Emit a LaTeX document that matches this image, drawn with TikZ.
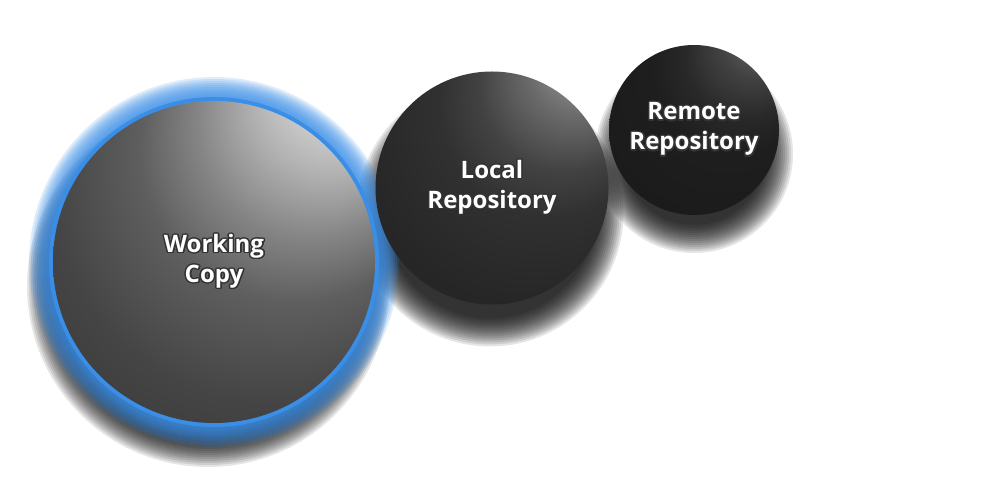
\documentclass[tikz,border=0pt]{standalone}
\usepackage{fontspec}
\usepackage[copies]{contour}
\newfontfamily\labelfont{Open Sans}
\contourlength{0.7pt}
\contournumber{20}

\definecolor{glowblue}{HTML}{3A8EE6}

% Sphere shadings, highlight up and to the right
\pgfdeclareradialshading{wcball}{\pgfpoint{24bp}{34bp}}{%
  color(0bp)=(black!4); color(5bp)=(black!11); color(12bp)=(black!30);
  color(18bp)=(black!48); color(24bp)=(black!63); color(33bp)=(black!73);
  color(42bp)=(black!78); color(50bp)=(black!80)}
\pgfdeclareradialshading{localball}{\pgfpoint{24bp}{34bp}}{%
  color(0bp)=(black!30); color(4bp)=(black!36); color(11bp)=(black!58);
  color(18bp)=(black!74); color(24bp)=(black!81); color(35bp)=(black!85);
  color(50bp)=(black!87)}
\pgfdeclareradialshading{remoteball}{\pgfpoint{24bp}{34bp}}{%
  color(0bp)=(black!50); color(4bp)=(black!56); color(11bp)=(black!74);
  color(18bp)=(black!84); color(24bp)=(black!88); color(50bp)=(black!91)}

\newcommand{\embossed}[1]{\contour{black!80}{#1}}

\begin{document}
\begin{tikzpicture}[x=0.5pt, y=-0.5pt,
    sphere/.style={circle, inner sep=0pt, shading angle=0, text=white, align=center,
      font=\labelfont\bfseries\fontsize{12pt}{15pt}\selectfont},
    drop/.style={black, opacity=0.1}]
    \useasboundingbox (0,0) rectangle (1000,480);

    % Soft shadows, below each sphere (centre, radius, spread)
    \foreach \cx/\cy/\r/\s in {694/154/85/14, 490/213/116.5/17, 208/286/161/20}
      \foreach \k in {0,...,14}
        \fill[drop] (\cx,\cy) circle [radius={(\r+\s-2*\k)*0.5pt}];

    % Blue glow round the working copy
    \foreach \k in {1,...,12}
      \fill[glowblue, opacity=0.16] (214,262) circle [radius={(161+2*\k)*0.5pt}];
    \draw[glowblue, line width=2pt] (214,262) circle [radius=81.5pt];

    % Spheres
    \node[sphere, minimum size=161pt, shading=wcball] (wc) at (214,262)
      {\embossed{Working}\\\embossed{Copy}};
    \node[sphere, minimum size=116.5pt, shading=localball] (local) at (492,188)
      {\embossed{Local}\\\embossed{Repository}};
    \node[sphere, minimum size=85pt, shading=remoteball] (remote) at (694,130)
      {\embossed{Remote}\\\embossed{Repository}};
\end{tikzpicture}
\end{document}
